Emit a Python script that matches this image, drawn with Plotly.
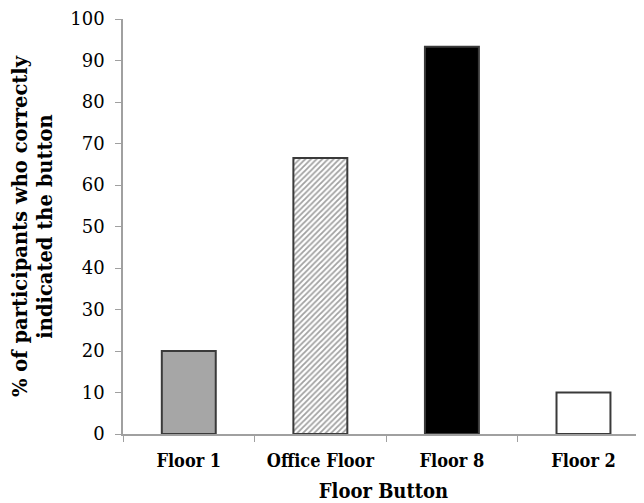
import plotly.graph_objects as go

categories = ["Floor 1", "Office Floor", "Floor 8", "Floor 2"]
values = [20, 66.5, 93.3, 10]
y_ticks = list(range(0, 101, 10))

fig = go.Figure()
fig.add_trace(go.Bar(
    x=categories,
    y=values,
    width=0.41,
    marker=dict(
        color=["#a6a6a6", "white", "black", "white"],
        line=dict(color="#3a3a3a", width=2),
        pattern=dict(
            shape=["", "/", "", ""],
            fgcolor="#555555",
            bgcolor="white",
            size=4,
            solidity=0.45,
        ),
    ),
))

serif = "DejaVu Serif"
fig.update_layout(
    width=636, height=495,
    margin=dict(l=115, r=0, t=11, b=69),
    plot_bgcolor="white", paper_bgcolor="white",
    showlegend=False,
)
fig.update_xaxes(
    range=[-0.5, 3.46],
    showline=True, linecolor="#a0a0a0", linewidth=1.5,
    ticks="outside", tickson="boundaries", ticklen=6, tickcolor="#a0a0a0",
    tickfont=dict(family="DejaVu Serif Condensed", size=18, color="black", weight="bold"),
    ticklabelstandoff=10,
    title=dict(text="<b>Floor Button</b>", font=dict(family="DejaVu Serif Condensed", size=20, color="black"), standoff=16),
    showgrid=False, zeroline=False,
)
fig.update_yaxes(
    range=[0, 100], tickvals=y_ticks,
    showline=True, linecolor="#a0a0a0", linewidth=1.5,
    ticks="outside", ticklen=6, tickcolor="#a0a0a0",
    tickfont=dict(family=serif, size=18, color="black"),
    ticklabelstandoff=7, ticklabeloverflow="allow",
    title=dict(text="<b>% of participants who correctly<br>indicated the button</b>",
               font=dict(family=serif, size=19.5, color="black"), standoff=12),
    showgrid=False, zeroline=False,
)
fig.write_html("out.html")
